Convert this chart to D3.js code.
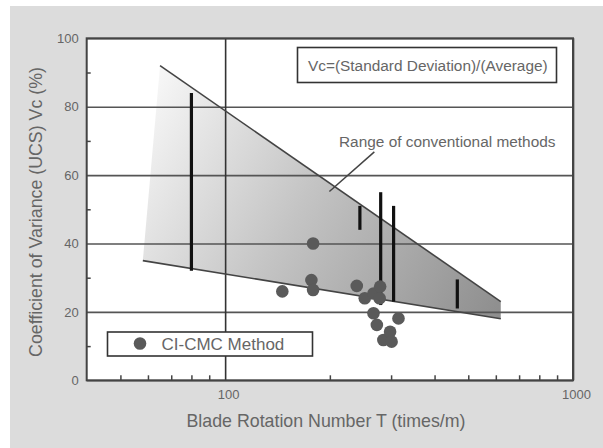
<!DOCTYPE html>
<html>
<head>
<meta charset="utf-8">
<script src="https://cdn.jsdelivr.net/npm/d3@7"></script>
<style>
  body { margin: 0; background: #fff; }
  svg text { font-family: "Liberation Sans", Arial, sans-serif; fill: #666; }
</style>
</head>
<body>
<div id="chart"></div>
<script>
// Range bars of conventional methods (T, low Vc, high Vc)
const rangeT    = [80, 244, 280, 305, 465];
const rangeLow  = [32, 44, 22, 23, 21];
const rangeHigh = [84, 51, 55, 51, 29.5];

// CI-CMC method points
const dotT = [146, 179, 177, 179, 239, 252, 267, 279, 278, 267, 273, 315, 285, 298, 301];
const dotV = [26, 40, 29.3, 26.4, 27.6, 24, 25.4, 27.4, 24, 19.6, 16.2, 18.1, 11.8, 14.2, 11.3];

// shaded band of conventional methods: upper and lower edge lines
const upperT = [65, 620];
const upperV = [92, 23];
const lowerT = [58, 620];
const lowerV = [35, 18];

const yMajor = [0, 20, 40, 60, 80, 100];
const yMinor = [10, 30, 50, 70, 90];
const xMajor = [100, 1000];
const xMinor = [50, 60, 70, 80, 90, 200, 300, 400, 500, 600, 700, 800, 900];

const W = 603, H = 448;
const pL = 86.7, pR = 573, pT = 38.3, pB = 380.3;

const svg = d3.select('#chart').append('svg')
    .attr('width', W)
    .attr('height', H);

// grey panel
svg.append('rect')
    .attr('x', 10).attr('y', 6)
    .attr('width', W - 10).attr('height', H - 6)
    .attr('fill', '#dcdcdc');

const x = d3.scaleLog().domain([40, 1000]).range([pL, pR]);
const y = d3.scaleLinear().domain([0, 100]).range([pB, pT]);

// plot area
svg.append('rect')
    .attr('x', pL).attr('y', pT)
    .attr('width', pR - pL).attr('height', pB - pT)
    .attr('fill', '#fff');

// gradient for the band
const defs = svg.append('defs');
const grad = defs.append('linearGradient')
    .attr('id', 'band')
    .attr('gradientUnits', 'userSpaceOnUse')
    .attr('x1', x(58)).attr('y1', y(80))
    .attr('x2', x(620)).attr('y2', y(20));
grad.append('stop').attr('offset', '0%').attr('stop-color', '#f6f6f6');
grad.append('stop').attr('offset', '45%').attr('stop-color', '#c4c4c4');
grad.append('stop').attr('offset', '100%').attr('stop-color', '#8e8e8e');

const bandPts = [
    [upperT[0], upperV[0]], [upperT[1], upperV[1]],
    [lowerT[1], lowerV[1]], [lowerT[0], lowerV[0]]
];
svg.append('path')
    .attr('d', d3.line().x(d => x(d[0])).y(d => y(d[1]))(bandPts) + 'Z')
    .attr('fill', 'url(#band)');

// horizontal gridlines
const gridY = svg.append('g')
    .attr('transform', `translate(${pL},0)`)
    .call(d3.axisLeft(y).tickValues(yMajor).tickSize(-(pR - pL)).tickFormat(d3.format('d')).tickPadding(8));
gridY.select('.domain').remove();
gridY.selectAll('line').attr('stroke', '#555').attr('stroke-width', 1.6);
gridY.selectAll('text').attr('font-size', 13).attr('fill', '#666');

// y minor ticks (inward)
const minY = svg.append('g')
    .attr('transform', `translate(${pL},0)`)
    .call(d3.axisLeft(y).tickValues(yMinor).tickSize(-4).tickFormat(''));
minY.select('.domain').remove();
minY.selectAll('line').attr('stroke', '#444').attr('stroke-width', 1.5);

// x axis: vertical line at 100 and labels
const gridX = svg.append('g')
    .attr('transform', `translate(0,${pB})`)
    .call(d3.axisBottom(x).tickValues(xMajor).tickSize(-(pB - pT)).tickFormat(d3.format('d')).tickPadding(9));
gridX.select('.domain').remove();
gridX.selectAll('line').attr('stroke', '#333').attr('stroke-width', 1.6);
gridX.selectAll('text').attr('font-size', 13).attr('fill', '#666').attr('dx', 3);

const minX = svg.append('g')
    .attr('transform', `translate(0,${pB})`)
    .call(d3.axisBottom(x).tickValues(xMinor).tickSize(-5).tickFormat(''));
minX.select('.domain').remove();
minX.selectAll('line').attr('stroke', '#444').attr('stroke-width', 1.5);

// band edge lines
svg.append('line')
    .attr('x1', x(upperT[0])).attr('y1', y(upperV[0]))
    .attr('x2', x(upperT[1])).attr('y2', y(upperV[1]))
    .attr('stroke', '#444').attr('stroke-width', 1.6);
svg.append('line')
    .attr('x1', x(lowerT[0])).attr('y1', y(lowerV[0]))
    .attr('x2', x(lowerT[1])).attr('y2', y(lowerV[1]))
    .attr('stroke', '#444').attr('stroke-width', 1.6);

// range bars
svg.selectAll('.rbar')
    .data(rangeT)
    .enter()
    .append('line')
    .attr('class', 'rbar')
    .attr('x1', d => x(d)).attr('x2', d => x(d))
    .attr('y1', (d, i) => y(rangeLow[i]))
    .attr('y2', (d, i) => y(rangeHigh[i]))
    .attr('stroke', '#111')
    .attr('stroke-width', 3.2);

// CI-CMC dots
svg.selectAll('.dot')
    .data(dotT)
    .enter()
    .append('circle')
    .attr('class', 'dot')
    .attr('cx', d => x(d))
    .attr('cy', (d, i) => y(dotV[i]))
    .attr('r', 6.3)
    .attr('fill', '#5a5a5a');

// plot border
svg.append('rect')
    .attr('x', pL).attr('y', pT)
    .attr('width', pR - pL).attr('height', pB - pT)
    .attr('fill', 'none')
    .attr('stroke', '#444')
    .attr('stroke-width', 2);

// formula box
svg.append('rect')
    .attr('x', 297.5).attr('y', 47.5)
    .attr('width', 259).attr('height', 35)
    .attr('fill', '#fff').attr('stroke', '#333').attr('stroke-width', 1.6);
svg.append('text')
    .attr('x', 308).attr('y', 71)
    .attr('font-size', 15.4)
    .text('Vc=(Standard Deviation)/(Average)');

// annotation
svg.append('text')
    .attr('x', 339).attr('y', 146.5)
    .attr('font-size', 15.4)
    .text('Range of conventional methods');
svg.append('line')
    .attr('x1', x(268.5)).attr('y1', y(66.8))
    .attr('x2', x(199.4)).attr('y2', y(55.2))
    .attr('stroke', '#444').attr('stroke-width', 1.5);

// legend
svg.append('rect')
    .attr('x', 107.5).attr('y', 332)
    .attr('width', 205).attr('height', 24)
    .attr('fill', '#fff').attr('stroke', '#333').attr('stroke-width', 1.6);
svg.append('circle')
    .attr('cx', 140).attr('cy', 343.5).attr('r', 6.3)
    .attr('fill', '#5a5a5a');
svg.append('text')
    .attr('x', 161.5).attr('y', 350)
    .attr('font-size', 17)
    .text('CI-CMC Method');

// axis titles
svg.append('text')
    .attr('x', 326).attr('y', 427)
    .attr('text-anchor', 'middle')
    .attr('font-size', 17.8)
    .text('Blade Rotation Number T (times/m)');
svg.append('text')
    .attr('transform', 'translate(42,212) rotate(-90)')
    .attr('text-anchor', 'middle')
    .attr('font-size', 17.8)
    .text('Coefficient of Variance (UCS) Vc (%)');
</script>
</body>
</html>
